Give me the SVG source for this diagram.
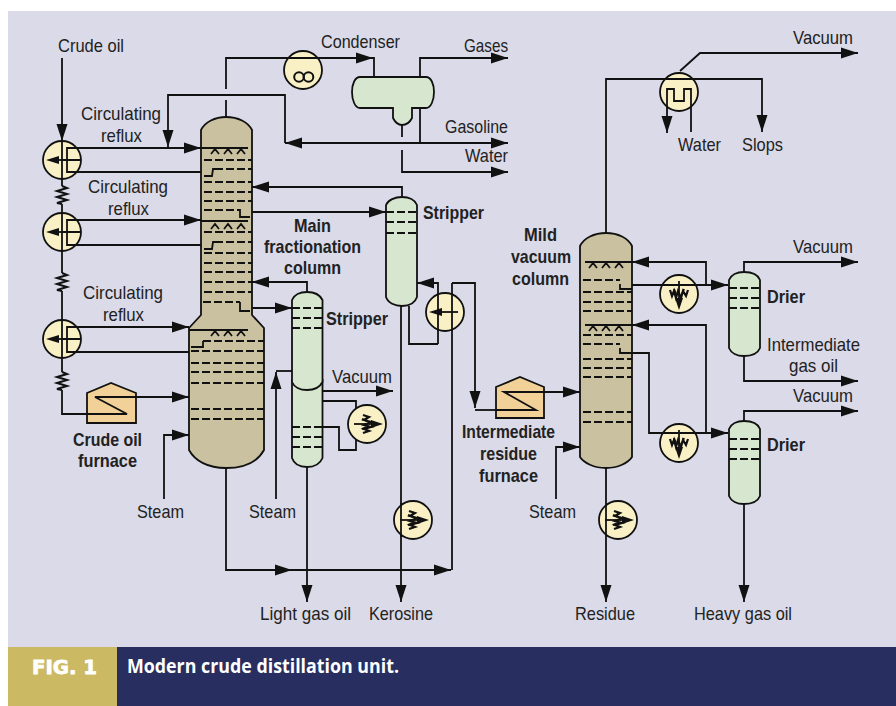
<svg xmlns="http://www.w3.org/2000/svg" xmlns:xlink="http://www.w3.org/1999/xlink" width="896" height="706" viewBox="0 0 896 706">
<style>
.l{fill:none;stroke:#111;stroke-width:1.8}
.a{fill:none;stroke:#111;stroke-width:1.8;marker-end:url(#ah)}
.d{fill:none;stroke:#111;stroke-width:1.8;stroke-dasharray:8 3}
.col{fill:#c9c1a0;stroke:#111;stroke-width:1.8}
.grn{fill:#d7e7cf;stroke:#111;stroke-width:1.8}
.fur{fill:#f1d198;stroke:#111;stroke-width:1.8}
.ex{fill:#f9f0c6;stroke:#111;stroke-width:1.8}
text{font-family:"Liberation Sans",Arial,sans-serif;font-size:19px;fill:#222}
.b{font-weight:700}
</style>
<defs>
<marker id="ah" markerUnits="userSpaceOnUse" markerWidth="17" markerHeight="11" refX="17" refY="5.5" orient="auto" overflow="visible"><path d="M0,0L17,5.5L0,11Z" fill="#111"/></marker>
<g id="chev"><path class="l" d="M0,5L4,0L8,5M13,5L17,0L21,5M26,5L30,0L34,5"/></g>
<g id="res"><path class="l" style="stroke-width:2" d="M0,0L5,2L-5,5L5,8L-5,11L5,14L-5,17L0,18"/></g>
<g id="heat">
<circle class="ex" r="19"/>
<path class="l" d="M-13,0H8"/>
<path d="M16,0L4,-4V4Z" fill="#111"/>
<path class="l" style="stroke-width:2.2" d="M-4,-9L2,-7L-3,-4L4,-2L-3,1L4,3L-3,5L2,7L-4,9"/>
<path class="l" style="stroke-width:2" d="M-5,-5L0,-3M-5,5L0,3"/>
</g>
<g id="cross">
<circle class="ex" r="19"/>
<path d="M-16,0L-3,-4V4Z" fill="#111"/>
<path class="l" d="M-4,0H13"/>
</g>
</defs>

<rect x="8" y="11" width="888" height="636" fill="#dadae8"/>
<rect x="8" y="647" width="109" height="59" fill="#cbb963"/>
<rect x="117" y="647" width="779" height="59" fill="#282e60"/>

<g id="connectors">
<path class="a" d="M62,58V141"/>
<path class="l" d="M62,179V186M62,204V213M62,251V273M62,291V320M62,358V372M62,390V414H127"/>
<path class="a" d="M77,148H201"/><path class="l" d="M77,172H201"/>
<path class="a" d="M77,220H201"/><path class="l" d="M77,245H201"/>
<path class="a" d="M77,327H189"/><path class="l" d="M77,352H189"/>
<path class="a" d="M136,397H189"/>
<path class="a" d="M164,499V435H189"/>
<path class="l" d="M226,117V100M226,89V58H300"/><path class="a" d="M300,58H373"/>
<path class="l" d="M373,58H374V77"/>
<path class="a" d="M420,77V58H508"/>
<path class="l" d="M420,108V143"/>
<path class="a" d="M420,143H285"/><path class="a" d="M420,143H508"/>
<path class="a" d="M285,143V95H168V147"/>
<path class="l" d="M402,125V137"/><path class="a" d="M402,150V172H508"/>
<path class="a" d="M402,197V187H252"/>
<path class="a" d="M252,212H386"/>
<path class="a" d="M307,292V282H252"/>
<path class="a" d="M252,308H292"/>
<path class="a" d="M276,499V372"/><path class="l" d="M276,371H292"/>
<path class="a" d="M322,391H393"/>
<path class="l" d="M307,390V401H356V450H339V427H322"/>
<path class="a" d="M307,467V602"/>
<path class="a" d="M226,468V570H292"/><path class="a" d="M285,570H451"/>
<path class="l" d="M452,570V283"/>
<path class="a" d="M452,283H475V408"/>
<path class="l" d="M475,410H496"/>
<path class="a" d="M438,344V283H417"/>
<path class="l" d="M438,344H409V306"/>
<path class="a" d="M401,306V602"/>
<path class="a" d="M544,392H580"/>
<path class="a" d="M556,499V447H580"/>
<path class="a" d="M606,468V602"/>
<path class="l" d="M606,233V79H660"/>
<path class="a" d="M698,79H762V132"/>
<path class="a" d="M680,71L700,53H858"/>
<path class="a" d="M667,111V133"/>
<path class="l" d="M691,111V132"/>
<path class="a" d="M706,285V262H632"/>
<path class="a" d="M632,285H728"/>
<path class="a" d="M706,433V325H632"/>
<path class="a" d="M632,353H649V433H728"/>
<path class="a" d="M744,272V262H858"/>
<path class="a" d="M744,356V381H858"/>
<path class="a" d="M744,421V411H858"/>
<path class="a" d="M744,504V602"/>
</g>

<g id="main-column">
<path class="col" d="M201,130C205,122 215,117 226,117C238,117 248,122 252,130V315L264,328V450C258,461 245,468 226,468C208,468 195,461 189,450V328L201,315Z"/>
<path class="l" d="M201,148H248M201,221H248M189,330H248"/>
<use xlink:href="#chev" x="211" y="149"/><use xlink:href="#chev" x="211" y="224"/><use xlink:href="#chev" x="211" y="331"/>
<path class="d" d="M204,160H252M215,169H252M204,182H252M204,192H252M204,201H252M204,210H238M215,242H252M204,232H252M204,253H252M204,263H252M204,272H252M204,282H252M204,292H252M203,302H240M203,341H264M191,351H264M191,363H264M191,372H264M191,383H264M191,409H264M191,419H264"/>
<path class="l" d="M204,176H212L213,169H216M238,210H240V217H250M204,249H212L213,242H216M240,302V311H250M191,347H203V341"/>
</g>

<g id="stripper-kerosine">
<path class="grn" d="M386,205C388,200 395,197 402,197C409,197 415,200 417,205V297C415,303 409,306 402,306C395,306 388,303 386,297Z"/>
<path class="d" d="M386,212H417M386,222H417M386,233H417"/>
</g>
<g id="stripper-gasoil">
<path class="grn" d="M292,380H322.500V458C320,464 314,467 307,467C300,467 294,464 292,458Z"/>
<path class="grn" d="M292,300C294,295 300,292 307,292C314,292 320,295 322.500,300V382C320,387 314,390 307,390C300,390 294,387 292,382Z"/>
<path class="d" d="M292,308H322M292,318H322M292,328H322M292,427H322M292,437H322M292,447H322"/>
</g>
<g id="condenser-drum">
<path class="grn" d="M360,77H426C431,77 434,84 434,92C434,100 431,108 426,108H412V118C410,122 406,125 402,125C398,125 395,122 393,118V108H360C355,108 352,100 352,92C352,84 355,77 360,77Z"/>
</g>
<g id="vacuum-column">
<path class="col" d="M580,246C584,238 594,233 606,233C618,233 628,238 632,246V457C628,463 618,468 606,468C594,468 584,463 580,457Z"/>
<path class="l" d="M585,262H632M585,325H632"/>
<use xlink:href="#chev" x="589" y="263"/><use xlink:href="#chev" x="589" y="326"/>
<path class="d" d="M583,280H620M583,292H632M583,302H632M583,311H632M583,335H632M583,344H620M583,359H632M583,368H632M583,377H632M583,412H632M583,422H632"/>
<path class="l" d="M620,284V289H632M620,348V353H632"/>
</g>
<g id="drier-1">
<path class="grn" d="M729,280C731,275 737,272 744,272C752,272 758,275 760,280V348C758,353 752,356 744,356C737,356 731,353 729,348Z"/>
<path class="d" d="M729,288H760M729,298H760M729,308H760"/>
</g>
<g id="drier-2">
<path class="grn" d="M729,429C731,424 737,421 744,421C752,421 758,424 760,429V496C758,501 752,504 744,504C737,504 731,501 729,496Z"/>
<path class="d" d="M729,439H760M729,449H760M729,459H760"/>
</g>

<g id="resistors">
<use xlink:href="#res" x="62" y="186"/><use xlink:href="#res" x="62" y="273"/><use xlink:href="#res" x="62" y="372"/>
</g>

<g id="exchanger-1"><use xlink:href="#cross" x="62" y="160"/><path class="l" d="M62,141V179M81,148H67V172H81M62,160H81"/></g>
<g id="exchanger-2"><use xlink:href="#cross" x="62" y="232"/><path class="l" d="M62,213V251M81,220H67V245H81M62,232H81"/></g>
<g id="exchanger-3"><use xlink:href="#cross" x="62" y="339"/><path class="l" d="M62,320V358M81,327H67V352H81M62,339H81"/></g>
<g id="condenser-exchanger"><circle class="ex" cx="303" cy="70" r="19"/><path class="l" d="M284,58H322"/><circle cx="299" cy="77" r="4.800" class="l" style="stroke-width:2"/><circle cx="308.500" cy="77" r="4.800" class="l" style="stroke-width:2"/></g>
<g id="exchanger-kerosine-loop"><use xlink:href="#cross" x="445" y="312"/><path class="l" d="M438,293V331M452,293V331"/></g>
<g id="reboiler-gasoil"><use xlink:href="#heat" x="367" y="424"/></g>
<g id="reboiler-kerosine"><use xlink:href="#heat" x="413" y="520"/><path class="l" d="M401,503V537"/></g>
<g id="reboiler-residue"><use xlink:href="#heat" x="618" y="520"/><path class="l" d="M606,505V535"/></g>
<g id="cooler-1"><use xlink:href="#heat" transform="translate(679,294) rotate(90)"/><path class="l" d="M660,285H698"/></g>
<g id="cooler-2"><use xlink:href="#heat" transform="translate(679,443) rotate(90)"/><path class="l" d="M660,433H698"/></g>
<g id="overhead-condenser"><circle class="ex" cx="679" cy="92" r="19"/><path class="l" d="M660,79H698M667,111V89H674V101H684V89H691V111"/></g>

<g id="crude-furnace">
<path class="fur" d="M87,393L111,383L136,393V423H87Z"/>
<path class="l" d="M87,414H127L95,397H136"/>
</g>
<g id="residue-furnace">
<path class="fur" d="M496,387L520,377L544,387V418H496Z"/>
<path class="l" d="M496,410H536L504,392H544"/>
</g>

<g id="labels">
<text x="58" y="52" textLength="66" lengthAdjust="spacingAndGlyphs">Crude oil</text>
<text x="81" y="120" textLength="80" lengthAdjust="spacingAndGlyphs">Circulating</text>
<text x="101" y="142" textLength="41" lengthAdjust="spacingAndGlyphs">reflux</text>
<text x="88" y="193" textLength="80" lengthAdjust="spacingAndGlyphs">Circulating</text>
<text x="108" y="215" textLength="41" lengthAdjust="spacingAndGlyphs">reflux</text>
<text x="83" y="299" textLength="80" lengthAdjust="spacingAndGlyphs">Circulating</text>
<text x="103" y="321" textLength="41" lengthAdjust="spacingAndGlyphs">reflux</text>
<text class="b" x="73" y="446" textLength="69" lengthAdjust="spacingAndGlyphs">Crude oil</text>
<text class="b" x="78" y="467" textLength="59" lengthAdjust="spacingAndGlyphs">furnace</text>
<text x="321" y="48" textLength="79" lengthAdjust="spacingAndGlyphs">Condenser</text>
<text x="464" y="52" textLength="44" lengthAdjust="spacingAndGlyphs">Gases</text>
<text x="445" y="133" textLength="63" lengthAdjust="spacingAndGlyphs">Gasoline</text>
<text x="465" y="162" textLength="43" lengthAdjust="spacingAndGlyphs">Water</text>
<text class="b" x="423" y="219" textLength="61" lengthAdjust="spacingAndGlyphs">Stripper</text>
<text class="b" x="294" y="232" textLength="37" lengthAdjust="spacingAndGlyphs">Main</text>
<text class="b" x="264" y="253" textLength="97" lengthAdjust="spacingAndGlyphs">fractionation</text>
<text class="b" x="284" y="274" textLength="57" lengthAdjust="spacingAndGlyphs">column</text>
<text class="b" x="326" y="325" textLength="62" lengthAdjust="spacingAndGlyphs">Stripper</text>
<text x="332" y="383" textLength="60" lengthAdjust="spacingAndGlyphs">Vacuum</text>
<text class="b" x="462" y="438" textLength="93" lengthAdjust="spacingAndGlyphs">Intermediate</text>
<text class="b" x="480" y="460" textLength="57" lengthAdjust="spacingAndGlyphs">residue</text>
<text class="b" x="479" y="482" textLength="59" lengthAdjust="spacingAndGlyphs">furnace</text>
<text class="b" x="524" y="241" textLength="33" lengthAdjust="spacingAndGlyphs">Mild</text>
<text class="b" x="511" y="263" textLength="60" lengthAdjust="spacingAndGlyphs">vacuum</text>
<text class="b" x="512" y="285" textLength="57" lengthAdjust="spacingAndGlyphs">column</text>
<text x="793" y="44" textLength="60" lengthAdjust="spacingAndGlyphs">Vacuum</text>
<text x="678" y="151" textLength="43" lengthAdjust="spacingAndGlyphs">Water</text>
<text x="742" y="151" textLength="41" lengthAdjust="spacingAndGlyphs">Slops</text>
<text x="793" y="253" textLength="60" lengthAdjust="spacingAndGlyphs">Vacuum</text>
<text class="b" x="767" y="303" textLength="38" lengthAdjust="spacingAndGlyphs">Drier</text>
<text x="767" y="351" textLength="93" lengthAdjust="spacingAndGlyphs">Intermediate</text>
<text x="789" y="372" textLength="49" lengthAdjust="spacingAndGlyphs">gas oil</text>
<text x="793" y="402" textLength="60" lengthAdjust="spacingAndGlyphs">Vacuum</text>
<text class="b" x="767" y="451" textLength="38" lengthAdjust="spacingAndGlyphs">Drier</text>
<text x="137" y="518" textLength="47" lengthAdjust="spacingAndGlyphs">Steam</text>
<text x="249" y="518" textLength="47" lengthAdjust="spacingAndGlyphs">Steam</text>
<text x="529" y="518" textLength="47" lengthAdjust="spacingAndGlyphs">Steam</text>
<text x="260" y="620" textLength="91" lengthAdjust="spacingAndGlyphs">Light gas oil</text>
<text x="369" y="620" textLength="64" lengthAdjust="spacingAndGlyphs">Kerosine</text>
<text x="575" y="620" textLength="60" lengthAdjust="spacingAndGlyphs">Residue</text>
<text x="694" y="620" textLength="98" lengthAdjust="spacingAndGlyphs">Heavy gas oil</text>
<text x="32" y="674" textLength="65" lengthAdjust="spacingAndGlyphs" style="font-family:'DejaVu Sans',sans-serif;font-weight:700;font-size:19px;fill:#fff;stroke:#fff;stroke-width:.8">FIG. 1</text>
<text x="127" y="673" textLength="272" lengthAdjust="spacingAndGlyphs" style="font-family:'Open Sans',sans-serif;font-weight:700;font-size:19px;fill:#fff">Modern crude distillation unit.</text>
</g>
</svg>
